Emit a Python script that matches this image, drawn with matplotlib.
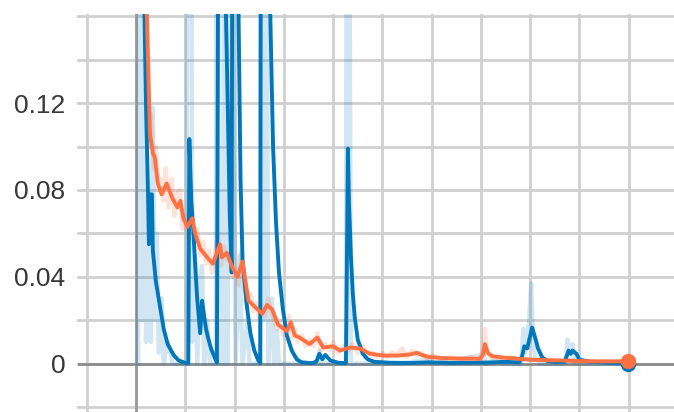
import matplotlib
matplotlib.use('Agg')
import matplotlib.pyplot as plt

# --- data (steps, value) ---
blue_steps = [5, 7, 10, 12, 13, 15, 16, 17, 20, 24, 28, 32, 38, 43, 50, 53,
              54, 56, 58, 60, 62, 65, 67, 69, 71, 73, 76, 80, 82,
              84, 87, 91, 93, 95, 97, 98, 101, 104, 106, 108, 112, 116, 120, 124, 126,
              127, 132, 136, 139, 142, 145, 149, 153, 158, 163, 168, 179, 183, 186, 189, 192,
              197, 205, 213, 215, 216, 218, 220, 222, 225, 230, 235, 242, 258, 278, 298,
              318, 339, 359, 374, 389, 392, 394, 397, 402, 405, 408, 412, 417, 425, 435,
              439, 441, 443, 447, 450, 460, 476, 491, 499]
blue_vals = [0.5, 0.20, 0.12, 0.08, 0.055, 0.078, 0.078, 0.052, 0.038, 0.027, 0.016, 0.009, 0.004, 0.0015, 0.0003, 0.0001,
             0.1035, 0.075, 0.062, 0.045, 0.030, 0.014, 0.029, 0.022, 0.016, 0.012, 0.007, 0.0025, 0.0005,
             0.30, 0.22, 0.165, 0.12, 0.07, 0.042, 0.30, 0.22, 0.16, 0.085, 0.048, 0.028, 0.014, 0.006, 0.0015, 0.0003,
             0.35, 0.25, 0.165, 0.10, 0.065, 0.042, 0.025, 0.013, 0.006, 0.002, 0.0006, 0.0002, 0.001, 0.0045, 0.002, 0.004,
             0.0015, 0.0004, 0.0002, 0.099, 0.075, 0.050, 0.032, 0.021, 0.011, 0.0046, 0.002, 0.0008, 0.0004, 0.0003, 0.0006,
             0.0003, 0.0004, 0.0005, 0.0008, 0.0006, 0.0037, 0.008, 0.007, 0.0166, 0.012, 0.007, 0.003, 0.0013, 0.0008, 0.0008,
             0.006, 0.0045, 0.006, 0.0045, 0.0018, 0.0009, 0.0005, 0.0002, -0.0003]

blue_raw_steps = [2, 4, 6, 8, 10, 13, 15, 17, 19, 21, 23, 26, 28, 32, 37, 51, 53, 55, 57, 60, 62, 65, 67, 69,
                  72, 75, 81, 82, 84, 86, 88, 91, 93, 97, 99, 101, 105, 108, 113, 115, 126, 127, 129, 132,
                  134, 138, 140, 143, 145, 185, 186, 188, 213, 214, 216, 218, 268, 298, 300, 353, 355, 369,
                  371, 391, 393, 395, 399, 401, 403, 405, 410, 436, 438, 440, 443, 445, 499]
blue_raw_vals = [0.0, 0.3, 0.02, 0.3, 0.01, 0.07, 0.01, 0.118, 0.02, 0.06, 0.005, 0.03, 0.0, 0.01, 0.0, 0.0, 0.5, 0.45, 0.01, 0.05, 0.0, 0.04, 0.045, 0.0,
                 0.02, 0.0, 0.0, 0.6, 0.0, 0.06, 0.0, 0.5, 0.0, 0.6, 0.1, 0.0, 0.05, 0.0, 0.02, 0.0, 0.0, 0.7, 0.02, 0.3,
                 0.0, 0.03, 0.0, 0.015, 0.0, 0.0, 0.006, 0.0, 0.0, 0.4, 0.3, 0.0, 0.0, 0.002, 0.0, 0.004, 0.0, 0.003,
                 0.0, 0.0, 0.016, 0.005, 0.02, 0.037, 0.01, 0.003, 0.0, 0.0, 0.011, 0.004, 0.009, 0.0, 0.0]

orange_steps = [10, 11, 14, 17, 19, 22, 26, 31, 37, 42, 45, 48, 52, 57, 60, 65, 72, 78, 85, 87, 92, 98, 103,
                108, 114, 121, 128, 133, 138, 144, 153, 157, 161, 166, 176, 184, 190, 200, 207, 217, 227,
                237, 251, 265, 278, 285, 291, 298, 313, 332, 349, 352, 354, 357, 361, 372, 384, 400, 415,
                434, 450, 467, 486, 499]
orange_vals = [0.165, 0.16, 0.106, 0.097, 0.095, 0.083, 0.078, 0.083, 0.076, 0.072, 0.075, 0.067, 0.063, 0.067, 0.060,
               0.053, 0.049, 0.046, 0.055, 0.049, 0.051, 0.044, 0.040, 0.047, 0.029, 0.026, 0.023, 0.027, 0.025,
               0.018, 0.015, 0.019, 0.013, 0.012, 0.009, 0.012, 0.0074, 0.008, 0.006, 0.0074, 0.007, 0.0046, 0.0037,
               0.0037, 0.0042, 0.005, 0.0038, 0.003, 0.0025, 0.0023, 0.0022, 0.004, 0.009, 0.005, 0.0035, 0.0028,
               0.0024, 0.0018, 0.0016, 0.0014, 0.0012, 0.001, 0.001, 0.0012]

orange_raw_steps = [10, 13, 15, 18, 20, 23, 25, 28, 30, 33, 36, 39, 41, 44, 47, 50, 53, 56, 59, 62, 65, 68, 71,
                    74, 77, 80, 83, 86, 89, 92, 95, 98, 101, 104, 107, 110, 113, 116, 119, 122, 125, 128, 131,
                    134, 137, 140, 143, 146, 149, 152, 155, 158, 161, 164, 168, 172, 176, 180, 184, 188, 192,
                    196, 200, 205, 210, 215, 220, 225, 230, 235, 240, 245, 250, 255, 260, 265, 270, 275, 280,
                    285, 290, 295, 300, 310, 320, 330, 340, 348, 352, 354, 356, 360, 370, 380, 390, 400, 410,
                    420, 430, 440, 450, 460, 470, 480, 490, 499]
orange_raw_vals = [0.17, 0.10, 0.115, 0.09, 0.10, 0.08, 0.085, 0.075, 0.09, 0.072, 0.085, 0.068, 0.078, 0.08, 0.062,
                   0.068, 0.058, 0.072, 0.056, 0.062, 0.05, 0.056, 0.046, 0.052, 0.042, 0.05, 0.06, 0.045, 0.054,
                   0.048, 0.052, 0.04, 0.044, 0.036, 0.052, 0.035, 0.027, 0.032, 0.024, 0.028, 0.021, 0.027, 0.022,
                   0.03, 0.024, 0.02, 0.016, 0.02, 0.013, 0.017, 0.022, 0.012, 0.016, 0.01, 0.013, 0.008, 0.011,
                   0.008, 0.014, 0.006, 0.009, 0.006, 0.01, 0.005, 0.008, 0.006, 0.009, 0.005, 0.008, 0.004, 0.005,
                   0.003, 0.005, 0.003, 0.005, 0.004, 0.007, 0.003, 0.006, 0.004, 0.005, 0.002, 0.004, 0.002, 0.003,
                   0.002, 0.003, 0.002, 0.006, 0.016, 0.005, 0.003, 0.002, 0.003, 0.0015, 0.002, 0.0015, 0.002,
                   0.0012, 0.0015, 0.001, 0.0014, 0.001, 0.0012, 0.0009, 0.0012]

y_ticks = [0, 0.04, 0.08, 0.12]
y_labels = ['0', '0.04', '0.08', '0.12']

BLUE = '#0077bb'
ORANGE = '#ff7043'

fig = plt.figure(figsize=(6.74, 4.12), dpi=100)
ax = fig.add_axes([78 / 674, 0, 596 / 674, 398 / 412])
ax.set_xlim(-59, 546)
ax.set_ylim(-0.0223, 0.1611)

# grid
for xv in range(-50, 501, 50):
    ax.axvline(xv, color='#d0d0d0', lw=2.0, zorder=0)
for i in range(-1, 9):
    ax.axhline(i * 0.02, color='#d0d0d0', lw=2.0, zorder=0, clip_on=False)
ax.axvline(0, color='#9a9a9a', lw=2.0, zorder=0.5)
ax.axhline(0, color='#8c8c8c', lw=2.0, zorder=0.5)

# raw (faded) series
ax.plot(blue_raw_steps, blue_raw_vals, color=BLUE, alpha=0.18, lw=3.2, zorder=1)
ax.plot(orange_raw_steps, orange_raw_vals, color=ORANGE, alpha=0.2, lw=3.2, zorder=1)

# smoothed series
ax.plot(blue_steps, blue_vals, color=BLUE, lw=2.8, zorder=2, solid_joinstyle='round')
ax.plot(orange_steps, orange_vals, color=ORANGE, lw=2.8, zorder=3, solid_joinstyle='round')

ax.plot(blue_steps[-1], blue_vals[-1], 'o', color=BLUE, ms=10, zorder=4, clip_on=False)
ax.plot(orange_steps[-1], orange_vals[-1], 'o', color=ORANGE, ms=10, zorder=5, clip_on=False)

for s in ax.spines.values():
    s.set_visible(False)
ax.set_xticks([])
ax.set_yticks(y_ticks)
ax.set_yticklabels(y_labels)
ax.tick_params(axis='y', length=0, pad=9, labelsize=19, labelcolor='#383838')
for lbl in ax.get_yticklabels():
    lbl.set_family('Liberation Sans')

fig.savefig('out.png', dpi=100)
